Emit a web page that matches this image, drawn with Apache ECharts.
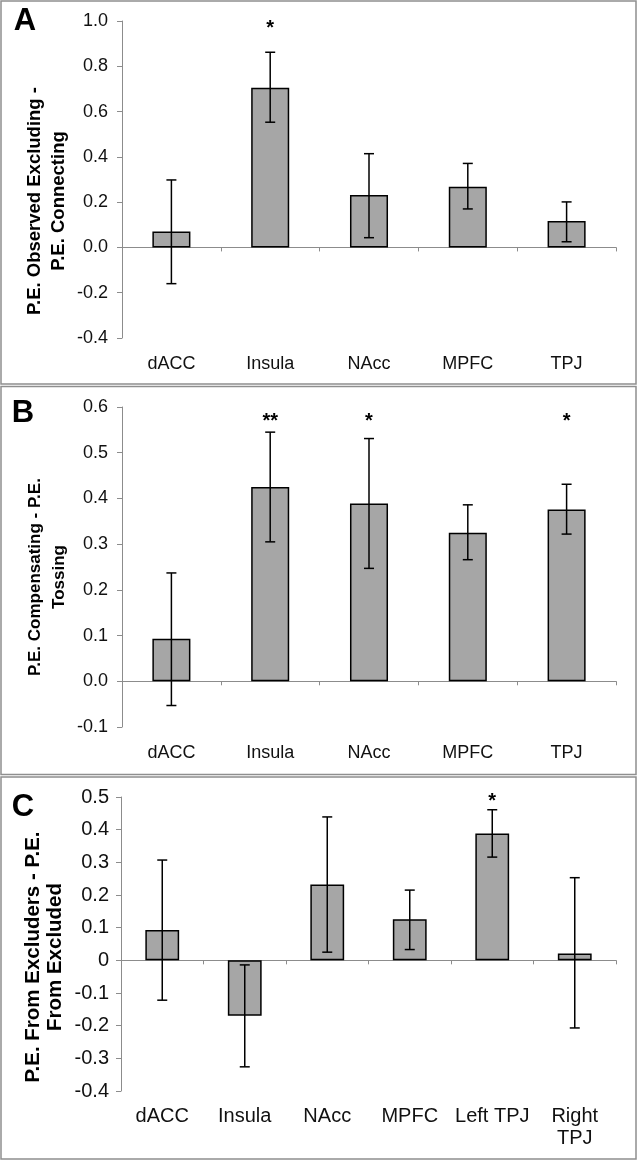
<!DOCTYPE html>
<html>
<head>
<meta charset="utf-8">
<script src="https://cdn.jsdelivr.net/npm/echarts@6/dist/echarts.min.js"></script>
<style>
html,body{margin:0;padding:0;background:#fff;}
#chart{width:638px;height:1164px;}
</style>
</head>
<body>
<div id="chart"></div>
<script>
// ---- Panel A ----
const categoriesA = ['dACC', 'Insula', 'NAcc', 'MPFC', 'TPJ'];
const meansA = [0.07, 0.705, 0.232, 0.268, 0.117];
const errLowA = [-0.16, 0.553, 0.043, 0.170, 0.025];
const errHighA = [0.298, 0.862, 0.414, 0.371, 0.201];
const starsA = ['', '*', '', '', ''];
const titleA = 'P.E. Observed Excluding -\nP.E. Connecting';

// ---- Panel B ----
const categoriesB = ['dACC', 'Insula', 'NAcc', 'MPFC', 'TPJ'];
const meansB = [0.093, 0.425, 0.389, 0.325, 0.376];
const errLowB = [-0.053, 0.305, 0.247, 0.266, 0.322];
const errHighB = [0.237, 0.545, 0.531, 0.386, 0.431];
const starsB = ['', '**', '*', '', '*'];
const titleB = 'P.E. Compensating - P.E.\nTossing';

// ---- Panel C ----
const categoriesC = ['dACC', 'Insula', 'NAcc', 'MPFC', 'Left TPJ', 'Right\nTPJ'];
const meansC = [0.093, -0.170, 0.232, 0.126, 0.388, 0.021];
const errLowC = [-0.122, -0.326, 0.025, 0.033, 0.316, -0.207];
const errHighC = [0.307, -0.014, 0.439, 0.215, 0.461, 0.253];
const starsC = ['', '', '', '', '*', ''];
const titleC = 'P.E. From Excluders - P.E.\nFrom Excluded';

const FONT = '"Liberation Sans", Arial, sans-serif';
const AXIS_GRAY = '#8c8c8c';

const panels = [
  {cats: categoriesA, means: meansA, lo: errLowA, hi: errHighA, stars: starsA,
   grid: {left: 122, top: 21, width: 494, height: 317}, fs: 18,
   y: {min: -0.4, max: 1.0, interval: 0.2}, fmt: v => v.toFixed(1), barWidth: '38.5%', starOff: 7, labelMargin: 14, catMargin: 15},
  {cats: categoriesB, means: meansB, lo: errLowB, hi: errHighB, stars: starsB,
   grid: {left: 122, top: 407, width: 494, height: 320}, fs: 18,
   y: {min: -0.1, max: 0.6, interval: 0.1}, fmt: v => v.toFixed(1), barWidth: '38.5%', starOff: 14, labelMargin: 14, catMargin: 15},
  {cats: categoriesC, means: meansC, lo: errLowC, hi: errHighC, stars: starsC,
   grid: {left: 121, top: 797, width: 495, height: 294}, fs: 20,
   y: {min: -0.4, max: 0.5, interval: 0.1}, fmt: v => (Math.abs(v) < 1e-9 ? '0' : v.toFixed(1)), barWidth: '41%', starOff: 4, labelMargin: 12, catMargin: 14}
];

function errRender(stars, starOff) {
  return function (params, api) {
    const i = api.value(0);
    const lo = api.coord([i, api.value(1)]);
    const hi = api.coord([i, api.value(2)]);
    const cap = 5;
    const style = {stroke: '#000', lineWidth: 1.5};
    const children = [
      {type: 'line', shape: {x1: hi[0], y1: hi[1], x2: lo[0], y2: lo[1]}, style: style},
      {type: 'line', shape: {x1: hi[0] - cap, y1: hi[1], x2: hi[0] + cap, y2: hi[1]}, style: style},
      {type: 'line', shape: {x1: lo[0] - cap, y1: lo[1], x2: lo[0] + cap, y2: lo[1]}, style: style}
    ];
    if (stars[i]) {
      children.push({type: 'text', x: hi[0], y: params.coordSys.y + starOff,
        style: {text: stars[i], font: 'bold 20px ' + FONT, fill: '#000', align: 'center', verticalAlign: 'middle'}});
    }
    return {type: 'group', children: children};
  };
}

const grids = [], xAxes = [], yAxes = [], series = [];
panels.forEach((p, k) => {
  grids.push(Object.assign({containLabel: false}, p.grid));
  // zero line axis with ticks
  xAxes.push({type: 'category', gridIndex: k, data: p.cats, position: 'bottom',
    axisLine: {show: true, onZero: true, lineStyle: {color: AXIS_GRAY, width: 1}},
    axisTick: {show: true, inside: false, length: 4, lineStyle: {color: AXIS_GRAY}},
    axisLabel: {show: false}, splitLine: {show: false}});
  // label axis at bottom
  xAxes.push({type: 'category', gridIndex: k, data: p.cats, position: 'bottom',
    axisLine: {show: false, onZero: false}, axisTick: {show: false},
    axisLabel: {show: true, interval: 0, margin: p.catMargin, color: '#111', fontSize: p.fs, fontFamily: FONT, lineHeight: 22},
    splitLine: {show: false}});
  yAxes.push({type: 'value', gridIndex: k, min: p.y.min, max: p.y.max, interval: p.y.interval,
    axisLine: {show: true, lineStyle: {color: AXIS_GRAY, width: 1}},
    axisTick: {show: true, length: 5, lineStyle: {color: AXIS_GRAY}},
    splitLine: {show: false},
    axisLabel: {formatter: p.fmt, color: '#111', fontSize: p.fs, fontFamily: FONT, margin: p.labelMargin}});
  series.push({type: 'bar', xAxisIndex: 2 * k, yAxisIndex: k, data: p.means, barWidth: p.barWidth,
    itemStyle: {color: '#a6a6a6', borderColor: '#000', borderWidth: 1.5}, silent: true, z: 2});
  series.push({type: 'custom', xAxisIndex: 2 * k, yAxisIndex: k, z: 5, silent: true,
    renderItem: errRender(p.stars, p.starOff),
    data: p.cats.map((c, i) => [i, p.lo[i], p.hi[i]])});
});

const titleStyle = (txt, fs, lh) => ({text: txt, font: 'bold ' + fs + 'px ' + FONT, fill: '#000', align: 'center', verticalAlign: 'middle', lineHeight: lh});
const letterStyle = t => ({text: t, font: 'bold 31px ' + FONT, fill: '#000', align: 'center', verticalAlign: 'middle'});

const graphics = [
  {type: 'rect', shape: {x: 1, y: 1, width: 635, height: 383}, style: {fill: 'none', stroke: '#8f8f8f', lineWidth: 1.5}, z: -1},
  {type: 'rect', shape: {x: 1, y: 386.5, width: 635, height: 388}, style: {fill: 'none', stroke: '#8f8f8f', lineWidth: 1.5}, z: -1},
  {type: 'rect', shape: {x: 1, y: 777, width: 635, height: 382}, style: {fill: 'none', stroke: '#8f8f8f', lineWidth: 1.5}, z: -1},
  {type: 'text', x: 25, y: 21, style: letterStyle('A')},
  {type: 'text', x: 23, y: 413, style: letterStyle('B')},
  {type: 'text', x: 23, y: 807, style: letterStyle('C')},
  {type: 'text', x: 47, y: 201, rotation: Math.PI / 2, style: titleStyle(titleA, 18.5, 24)},
  {type: 'text', x: 47, y: 577, rotation: Math.PI / 2, style: titleStyle(titleB, 17, 24)},
  {type: 'text', x: 44, y: 957, rotation: Math.PI / 2, style: titleStyle(titleC, 20.5, 22)}
];

const chart = echarts.init(document.getElementById('chart'), null, {renderer: 'canvas'});
chart.setOption({
  animation: false,
  backgroundColor: '#fff',
  grid: grids,
  xAxis: xAxes,
  yAxis: yAxes,
  series: series,
  graphic: graphics
});
</script>
</body>
</html>
